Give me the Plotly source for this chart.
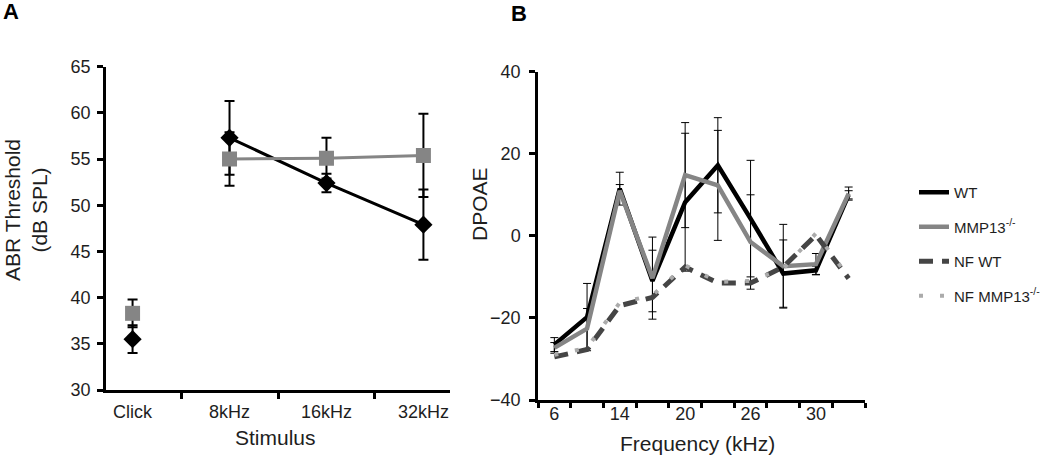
import plotly.graph_objects as go

# ---------------- Panel A data ----------------
stimuli = ["Click", "8kHz", "16kHz", "32kHz"]
wt_abr = [35.5, 57.3, 52.4, 47.9]
wt_abr_err = [1.5, 4.0, 1.0, 3.8]
mmp_abr = [38.3, 55.0, 55.1, 55.4]
mmp_abr_err = [1.5, 2.9, 2.2, 4.5]

# ---------------- Panel B data ----------------
freq_tick_labels = ["6", "14", "20", "26", "30"]
freq_tick_pos = [0, 2, 4, 6, 8]
freq_pos = [0, 1, 2, 3, 4, 5, 6, 7, 8, 9]
wt_dp = [-26.5, -19.8, 11.5, -11.0, 8.2, 17.2, 4.2, -9.2, -8.4, 10.0]
wt_dp_err = [1.7, 8.2, 4.0, 7.5, 16.8, 11.6, 14.2, 8.2, 1.0, 1.0]
mmp_dp = [-27.3, -22.6, 11.0, -10.3, 14.8, 12.3, -1.5, -7.4, -6.9, 10.3]
mmp_dp_err = [1.3, 4.9, 1.5, 10.0, 12.8, 13.4, 11.5, 10.2, 2.6, 1.6]
nf_wt_dp = [-29.5, -27.7, -17.0, -15.0, -7.6, -11.5, -11.5, -7.6, 0.2, -10.4]
nf_mmp_dp = [-29.0, -27.3, -16.3, -14.5, -7.2, -11.2, -11.0, -8.0, 0.6, -10.0]

W, H = 1050, 456
BLACK = "#000000"
GREY = "#858585"
TXT = "#1e1e1e"
FONT = "Liberation Sans, Arial, sans-serif"

fig = go.Figure()

# Panel A
fig.add_trace(go.Scatter(x=stimuli[1:], y=wt_abr[1:], mode="lines",
                         line=dict(color=BLACK, width=3), showlegend=False,
                         xaxis="x", yaxis="y"))
fig.add_trace(go.Scatter(x=stimuli, y=wt_abr, mode="markers",
                         marker=dict(symbol="diamond", size=14, color=BLACK),
                         error_y=dict(type="data", array=wt_abr_err, color=BLACK,
                                      thickness=2, width=5),
                         showlegend=False, xaxis="x", yaxis="y"))
fig.add_trace(go.Scatter(x=stimuli[1:], y=mmp_abr[1:], mode="lines",
                         line=dict(color=GREY, width=3), showlegend=False,
                         xaxis="x", yaxis="y"))
fig.add_trace(go.Scatter(x=stimuli, y=mmp_abr, mode="markers",
                         marker=dict(symbol="square", size=15, color=GREY),
                         error_y=dict(type="data", array=mmp_abr_err, color=BLACK,
                                      thickness=2, width=5),
                         showlegend=False, xaxis="x", yaxis="y"))

# Panel B
fig.add_trace(go.Scatter(x=freq_pos, y=wt_dp, mode="lines", name="WT",
                         line=dict(color=BLACK, width=4.5),
                         error_y=dict(type="data", array=wt_dp_err, color=BLACK,
                                      thickness=1, width=4),
                         legendgroup="a", xaxis="x2", yaxis="y2"))
fig.add_trace(go.Scatter(x=freq_pos, y=mmp_dp, mode="lines",
                         name="MMP13<sup>-/-</sup>",
                         line=dict(color=GREY, width=4.5),
                         error_y=dict(type="data", array=mmp_dp_err, color=BLACK,
                                      thickness=1, width=4),
                         legendgroup="b", xaxis="x2", yaxis="y2"))
fig.add_trace(go.Scatter(x=freq_pos, y=nf_wt_dp, mode="lines", name="NF WT",
                         line=dict(color="#454545", width=5, dash="14px,9px"),
                         legendgroup="c", xaxis="x2", yaxis="y2"))
fig.add_trace(go.Scatter(x=freq_pos, y=nf_mmp_dp, mode="lines",
                         name="NF MMP13<sup>-/-</sup>",
                         line=dict(color="#ababab", width=4, dash="4px,17px"),
                         legendgroup="d", xaxis="x2", yaxis="y2"))

axis_common = dict(showline=True, linecolor=BLACK, linewidth=2.5, showgrid=False,
                   zeroline=False, tickfont=dict(family=FONT, size=18, color=TXT),
                   mirror=False, automargin=False)

fig.update_layout(
    template="none",
    width=W, height=H,
    margin=dict(l=0, r=0, t=0, b=0, pad=0, autoexpand=False),
    paper_bgcolor="white", plot_bgcolor="white",
    font=dict(family=FONT, color=TXT),
    xaxis=dict(domain=[106 / W, 450 / W], anchor="y", type="category",
               categoryorder="array", categoryarray=stimuli,
               tickson="boundaries", ticks="outside", ticklen=6, tickwidth=2.5,
               tickcolor=BLACK, ticklabelstandoff=4, **axis_common),
    yaxis=dict(domain=[(H - 390) / H, (H - 66.7) / H], anchor="x",
               range=[30, 65], dtick=5, ticks="outside", ticklen=6, tickwidth=2.5,
               tickcolor=BLACK, ticklabelstandoff=3, **axis_common),
    xaxis2=dict(domain=[538 / W, 865 / W], anchor="y2", range=[-0.5, 9.5],
                tickmode="array", tickvals=freq_tick_pos, ticktext=freq_tick_labels,
                ticks="", ticklabelstandoff=-4,
                minor=dict(tickmode="array",
                           tickvals=[-0.5, 0.5, 1.5, 2.5, 3.5, 4.5, 5.5, 6.5, 7.5, 8.5, 9.5],
                           ticks="outside", ticklen=5, tickwidth=2.5, tickcolor=BLACK),
                **axis_common),
    yaxis2=dict(domain=[(H - 400) / H, (H - 71.7) / H], anchor="x2",
                range=[-40, 40], dtick=20, ticks="outside", ticklen=6, tickwidth=2.5,
                tickcolor=BLACK, ticklabelstandoff=5, **axis_common),
    showlegend=True,
    legend=dict(x=914 / W, y=1 - 176 / H, xanchor="left", yanchor="top",
                traceorder="grouped", tracegroupgap=12,
                font=dict(family=FONT, size=15, color=TXT),
                bgcolor="rgba(0,0,0,0)", borderwidth=0),
    annotations=[
        dict(text="<b>A</b>", x=11 / W, y=1 - 12 / H, xref="paper", yref="paper",
             xanchor="center", yanchor="middle", showarrow=False,
             font=dict(family=FONT, size=22, color=BLACK)),
        dict(text="<b>B</b>", x=519 / W, y=1 - 13 / H, xref="paper", yref="paper",
             xanchor="center", yanchor="middle", showarrow=False,
             font=dict(family=FONT, size=22, color=BLACK)),
        dict(text="ABR Threshold<br>(dB SPL)", textangle=-90, x=26 / W, y=1 - 210 / H,
             xref="paper", yref="paper", xanchor="center", yanchor="middle",
             showarrow=False, font=dict(family=FONT, size=21, color=TXT)),
        dict(text="Stimulus", x=275 / W, y=1 - 437 / H, xref="paper", yref="paper",
             xanchor="center", yanchor="middle", showarrow=False,
             font=dict(family=FONT, size=21, color=TXT)),
        dict(text="DPOAE", textangle=-90, x=479 / W, y=1 - 204 / H,
             xref="paper", yref="paper", xanchor="center", yanchor="middle",
             showarrow=False, font=dict(family=FONT, size=21, color=TXT)),
        dict(text="Frequency (kHz)", x=697 / W, y=1 - 443 / H, xref="paper",
             yref="paper", xanchor="center", yanchor="middle", showarrow=False,
             font=dict(family=FONT, size=21, color=TXT)),
    ],
)

fig.write_html("out.html", config={"displayModeBar": False},
               post_script="document.body.style.margin='0';document.body.style.padding='0';")
